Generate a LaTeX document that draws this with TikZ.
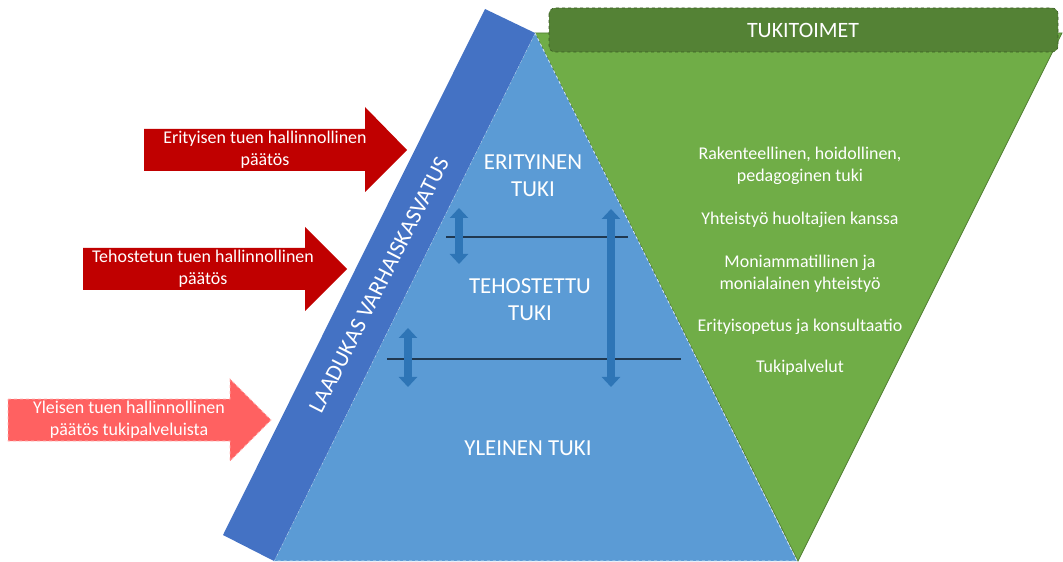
\documentclass[tikz,border=0pt]{standalone}
\usepackage{fontspec}
\setmainfont{Carlito}
\usetikzlibrary{arrows.meta}
\definecolor{bandblue}{HTML}{4472C4}
\definecolor{pyrblue}{HTML}{5B9BD5}
\definecolor{arrblue}{HTML}{2E75B6}
\definecolor{tukigreen}{HTML}{70AD47}
\definecolor{darkgreen}{HTML}{548235}
\definecolor{edgegreen}{HTML}{507E32}
\definecolor{darkred}{HTML}{C00000}
\definecolor{lightred}{HTML}{FF6161}
\definecolor{navyline}{HTML}{203850}

\begin{document}
\begin{tikzpicture}[x=1bp,y=-1bp,
    txt/.style={text=white,align=center,font=\fontsize{18}{22}\selectfont},
    bigtxt/.style={text=white,align=center,font=\fontsize{23}{27}\selectfont},
    levelline/.style={draw=navyline,line width=1.3bp},
    updown/.style={draw=arrblue,line width=8bp,{Triangle[width=18bp,length=10bp]}-{Triangle[width=18bp,length=10bp]}}]
    \useasboundingbox (0,0) rectangle (1063,562);
    % triangles and band
    \path [fill=tukigreen,draw=edgegreen,line width=0.8bp] (535,33) -- (1062,33) -- (798,561) -- cycle;
    \path [fill=pyrblue,draw=white!75!pyrblue,dashed,line width=0.8bp] (535,33) -- (797,561) -- (274,561) -- cycle;
    \path [fill=bandblue] (485,9) -- (535,33) -- (274,561) -- (223,535) -- cycle;
    \path [fill=darkgreen,draw=edgegreen!70!black,dashed,line width=0.6bp,rounded corners=6bp] (549,8) rectangle (1058,52);
    % block arrows
    \path [fill=darkred] (144,129) -- (365,129) -- (365,107) -- (407,150) -- (365,192) -- (365,171) -- (144,171) -- cycle;
    \path [fill=darkred] (83,248) -- (305,248) -- (305,227) -- (347,269) -- (305,311) -- (305,290) -- (83,290) -- cycle;
    \path [fill=lightred,draw=white!55!lightred,dashed,line width=0.8bp] (8,399) -- (230,399) -- (230,379) -- (271,420) -- (230,461) -- (230,441) -- (8,441) -- cycle;
    % level lines and arrows
    \coordinate (l1) at (446,237);
    \coordinate (r1) at (628,237);
    \coordinate (l2) at (387,359);
    \coordinate (r2) at (681,359);
    \draw[levelline] (l1) -- (r1);
    \draw[levelline] (l2) -- (r2);
    \coordinate (t1) at (459,208);
    \coordinate (b1) at (459,264);
    \coordinate (t2) at (408,328);
    \coordinate (b2) at (408,387);
    \coordinate (t3) at (611,209);
    \coordinate (b3) at (611,387);
    \draw[updown] (t1) -- (b1);
    \draw[updown] (t2) -- (b2);
    \draw[updown] (t3) -- (b3);
    % texts
    \node[bigtxt,font=\fontsize{22}{26}\selectfont] (tukitoimet) at (803,30) {TUKITOIMET};
    \node[bigtxt] (erityinen) at (533,176) {ERITYINEN\\TUKI};
    \node[bigtxt] (tehostettu) at (530,300) {TEHOSTETTU\\TUKI};
    \node[bigtxt] (yleinen) at (528,448) {YLEINEN TUKI};
    \node[bigtxt,rotate=63] (laadukas) at (379,285) {LAADUKAS VARHAISKASVATUS};
    \node[txt] (p1) at (265,150) {Erityisen tuen hallinnollinen\\päätös};
    \node[txt] (p2) at (203,269) {Tehostetun tuen hallinnollinen\\päätös};
    \node[txt] (p3) at (129,420) {Yleisen tuen hallinnollinen\\päätös tukipalveluista};
    \node[txt] (g1) at (800,166) {Rakenteellinen, hoidollinen,\\pedagoginen tuki};
    \node[txt] (g2) at (800,220) {Yhteistyö huoltajien kanssa};
    \node[txt] (g3) at (800,274) {Moniammatillinen ja\\monialainen yhteistyö};
    \node[txt] (g4) at (800,327) {Erityisopetus ja konsultaatio};
    \node[txt] (g5) at (800,368) {Tukipalvelut};
\end{tikzpicture}
\end{document}
